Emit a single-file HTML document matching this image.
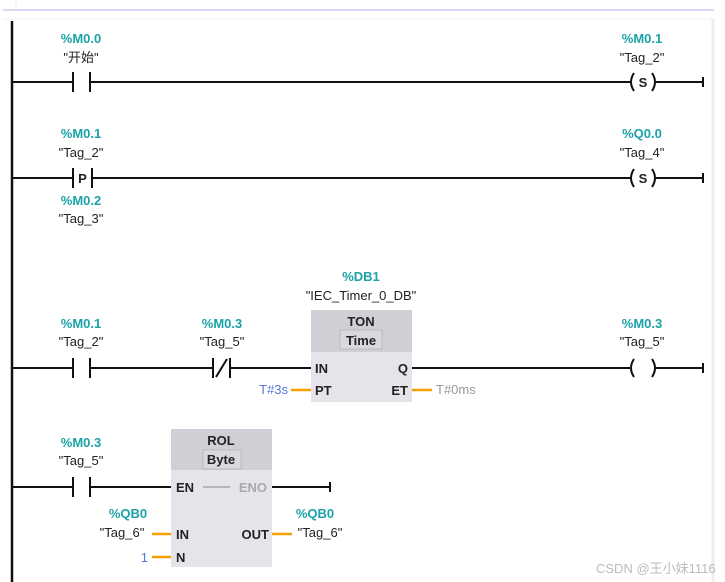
<!DOCTYPE html>
<html><head><meta charset="utf-8"><style>
html,body{margin:0;padding:0;background:#fff;width:725px;height:582px;overflow:hidden}
text{font-family:"Liberation Sans","Noto Sans CJK SC",sans-serif;font-size:13px}
.a{fill:#1aa3a8;font-weight:bold}
.t{fill:#222}
.b{fill:#222;font-weight:bold}
</style></head><body>
<svg width="725" height="582" xmlns="http://www.w3.org/2000/svg">
<line x1="16" y1="0" x2="16" y2="7" stroke="#e8e8ee"/>
<line x1="3" y1="10" x2="714" y2="10" stroke="#cfcaf0" stroke-width="1.5"/>
<line x1="3" y1="19" x2="714" y2="19" stroke="#f0f0f0"/>
<line x1="713" y1="19" x2="713" y2="582" stroke="#eeeeee" stroke-width="3"/>
<line x1="12" y1="21" x2="12" y2="582" stroke="#111" stroke-width="2.5"/>
<g stroke="#111" stroke-width="2" fill="none">
<line x1="12" y1="82" x2="73" y2="82"/><line x1="73" y1="72" x2="73" y2="92"/><line x1="90" y1="72" x2="90" y2="92"/>
<line x1="90" y1="82" x2="630" y2="82"/>
<path d="M634 73 Q628 82 634 91"/><path d="M652 73 Q658 82 652 91"/>
<line x1="656" y1="82" x2="703" y2="82"/><line x1="703" y1="77" x2="703" y2="87"/>
<line x1="12" y1="178" x2="73" y2="178"/><line x1="73" y1="168" x2="73" y2="188"/><line x1="92" y1="168" x2="92" y2="188"/>
<line x1="92" y1="178" x2="630" y2="178"/>
<path d="M634 169 Q628 178 634 187"/><path d="M652 169 Q658 178 652 187"/>
<line x1="656" y1="178" x2="703" y2="178"/><line x1="703" y1="173" x2="703" y2="183"/>
<line x1="12" y1="368" x2="73" y2="368"/><line x1="73" y1="358" x2="73" y2="378"/><line x1="90" y1="358" x2="90" y2="378"/>
<line x1="90" y1="368" x2="213" y2="368"/><line x1="213" y1="358" x2="213" y2="378"/><line x1="230" y1="358" x2="230" y2="378"/>
<line x1="216" y1="377" x2="227" y2="359"/>
<line x1="230" y1="368" x2="311" y2="368"/>
<line x1="412" y1="368" x2="630" y2="368"/>
<path d="M634 359 Q628 368 634 377"/><path d="M652 359 Q658 368 652 377"/>
<line x1="656" y1="368" x2="703" y2="368"/><line x1="703" y1="363" x2="703" y2="373"/>
<line x1="12" y1="487" x2="73" y2="487"/><line x1="73" y1="477" x2="73" y2="497"/><line x1="90" y1="477" x2="90" y2="497"/>
<line x1="90" y1="487" x2="171" y2="487"/>
<line x1="272" y1="487" x2="330" y2="487"/><line x1="330" y1="482" x2="330" y2="492"/>
</g>
<text x="643" y="87" text-anchor="middle" class="b" font-size="12">S</text>
<text x="643" y="183" text-anchor="middle" class="b" font-size="12">S</text>
<text x="82.5" y="183" text-anchor="middle" class="b" font-size="12">P</text>
<rect x="311" y="310" width="101" height="92" fill="#e4e4ea"/>
<rect x="311" y="310" width="101" height="42" fill="#cfcfd6"/>
<rect x="340" y="330" width="42" height="19" fill="#d8d8de" stroke="#bbb"/>
<text x="361" y="326" text-anchor="middle" class="b">TON</text>
<text x="361" y="345" text-anchor="middle" class="b">Time</text>
<text x="315" y="373" class="b">IN</text><text x="315" y="395" class="b">PT</text>
<text x="408" y="373" text-anchor="end" class="b">Q</text><text x="408" y="395" text-anchor="end" class="b">ET</text>
<line x1="291" y1="390" x2="311" y2="390" stroke="#f5a000" stroke-width="2.5"/>
<line x1="412" y1="390" x2="432" y2="390" stroke="#f5a000" stroke-width="2.5"/>
<text x="288" y="394" text-anchor="end" fill="#5577dd">T#3s</text>
<text x="436" y="394" fill="#999">T#0ms</text>
<rect x="171" y="429" width="101" height="138" fill="#e4e4ea"/>
<rect x="171" y="429" width="101" height="41" fill="#cfcfd6"/>
<rect x="203" y="450" width="38" height="19" fill="#d8d8de" stroke="#bbb"/>
<text x="221" y="445" text-anchor="middle" class="b">ROL</text>
<text x="221" y="464" text-anchor="middle" class="b">Byte</text>
<text x="176" y="492" class="b">EN</text>
<line x1="203" y1="487" x2="230" y2="487" stroke="#888"/>
<text x="267" y="492" text-anchor="end" fill="#aaa" font-weight="bold">ENO</text>
<text x="176" y="539" class="b">IN</text><text x="176" y="562" class="b">N</text>
<text x="269" y="539" text-anchor="end" class="b">OUT</text>
<line x1="152" y1="534" x2="171" y2="534" stroke="#f5a000" stroke-width="2.5"/>
<line x1="152" y1="557" x2="171" y2="557" stroke="#f5a000" stroke-width="2.5"/>
<line x1="272" y1="534" x2="292" y2="534" stroke="#f5a000" stroke-width="2.5"/>
<text x="148" y="562" text-anchor="end" fill="#5577dd">1</text>
<g text-anchor="middle">
<text x="81" y="43" class="a">%M0.0</text><text x="81" y="62" class="t">"开始"</text>
<text x="642" y="43" class="a">%M0.1</text><text x="642" y="62" class="t">"Tag_2"</text>
<text x="81" y="138" class="a">%M0.1</text><text x="81" y="157" class="t">"Tag_2"</text>
<text x="642" y="138" class="a">%Q0.0</text><text x="642" y="157" class="t">"Tag_4"</text>
<text x="81" y="205" class="a">%M0.2</text><text x="81" y="223" class="t">"Tag_3"</text>
<text x="361" y="281" class="a">%DB1</text><text x="361" y="300" class="t">"IEC_Timer_0_DB"</text>
<text x="81" y="328" class="a">%M0.1</text><text x="81" y="346" class="t">"Tag_2"</text>
<text x="222" y="328" class="a">%M0.3</text><text x="222" y="346" class="t">"Tag_5"</text>
<text x="642" y="328" class="a">%M0.3</text><text x="642" y="346" class="t">"Tag_5"</text>
<text x="81" y="447" class="a">%M0.3</text><text x="81" y="465" class="t">"Tag_5"</text>
<text x="128" y="518" class="a">%QB0</text><text x="122" y="537" class="t">"Tag_6"</text>
<text x="315" y="518" class="a">%QB0</text><text x="320" y="537" class="t">"Tag_6"</text>
</g>
<text x="596" y="573" fill="#bbb" font-size="12">CSDN @王小妹1116</text>
</svg>
</body></html>
